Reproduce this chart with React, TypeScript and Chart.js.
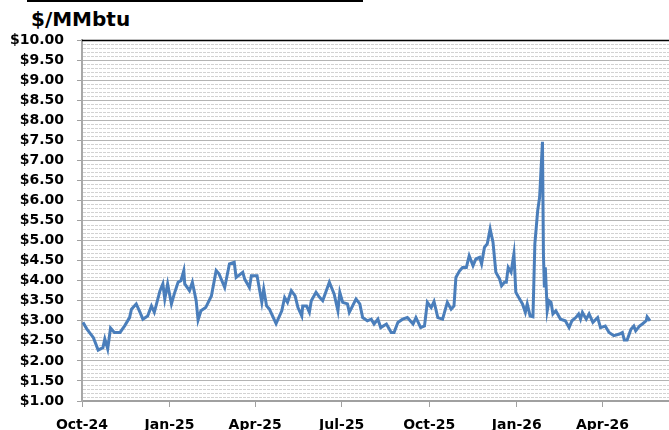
import React, { useEffect, useRef } from "react";
import { Chart, registerables } from "chart.js";

Chart.register(...registerables);

// Day offsets from 1 Oct 2024 and the price on that day ($/MMbtu)
const days = [
  1, 5, 12, 17, 22, 24, 27, 30, 34, 40, 45, 50, 52, 57, 61, 64, 69, 73, 76, 82,
  85, 87, 90, 94, 97, 101, 104, 107, 108, 113, 116, 120, 122, 125, 130, 136, 141, 144, 150, 155,
  160, 162, 169, 171, 176, 178, 184, 189, 191, 194, 197, 204, 210, 213, 216, 220, 224, 227, 231, 232,
  236, 239, 241, 246, 250, 253, 260, 265, 269, 271, 274, 279, 281, 288, 292, 295, 300, 304, 307, 311,
  314, 320, 325, 328, 332, 337, 342, 348, 351, 356, 360, 363, 367, 370, 374, 379, 384, 388, 391, 393,
  397, 400, 404, 407, 411, 414, 418, 420, 423, 426, 429, 432, 435, 439, 441, 444, 446, 448, 451, 454,
  456, 460, 463, 466, 468, 471, 474, 476, 479, 481, 484, 485, 486, 487, 489, 491, 493, 495, 498, 503,
  508, 512, 515, 519, 522, 524, 526, 530, 533, 537, 542, 545, 550, 554, 559, 565, 568, 570, 573, 577,
  580, 582, 586, 589, 593, 594, 597,
];
const prices = [
  2.96, 2.8, 2.58, 2.27, 2.33, 2.55, 2.3, 2.82, 2.71, 2.71, 2.88, 3.08, 3.29, 3.42, 3.21, 3.04, 3.12, 3.37, 3.21, 3.75,
  3.92, 3.54, 3.92, 3.42, 3.67, 3.96, 4.0, 4.25, 3.92, 3.75, 3.96, 3.5, 3.02, 3.25, 3.33, 3.62, 4.25, 4.17, 3.83, 4.42,
  4.46, 4.08, 4.21, 4.04, 3.83, 4.12, 4.12, 3.46, 3.79, 3.37, 3.29, 2.93, 3.25, 3.58, 3.46, 3.75, 3.62, 3.33, 3.12, 3.37,
  3.37, 3.21, 3.5, 3.71, 3.58, 3.5, 3.96, 3.67, 3.25, 3.71, 3.46, 3.42, 3.21, 3.54, 3.42, 3.08, 3.0, 3.04, 2.92, 3.04,
  2.83, 2.92, 2.71, 2.71, 2.96, 3.04, 3.08, 2.92, 3.08, 2.83, 2.87, 3.46, 3.33, 3.48, 3.08, 3.04, 3.46, 3.29, 3.37, 4.08,
  4.25, 4.33, 4.33, 4.62, 4.37, 4.54, 4.58, 4.42, 4.83, 4.92, 5.29, 4.96, 4.21, 4.04, 3.87, 3.96, 3.96, 4.33, 4.21, 4.67,
  3.71, 3.54, 3.42, 3.21, 3.42, 3.12, 3.1, 4.92, 5.75, 6.08, 7.46, 4.67, 3.83, 4.33, 3.25, 3.5, 3.46, 3.17, 3.25, 3.04,
  3.0, 2.83, 3.0, 3.08, 3.17, 3.04, 3.21, 3.04, 3.17, 2.96, 3.08, 2.83, 2.87, 2.71, 2.63, 2.67, 2.71, 2.52, 2.52, 2.79,
  2.87, 2.75, 2.87, 2.92, 3.0, 3.1, 3.0,
];

const tickDays = [0, 92, 182, 273, 365, 457, 547];
const tickLabels = ["Oct-24", "Jan-25", "Apr-25", "Jul-25", "Oct-25", "Jan-26", "Apr-26"];

const FONT = "'DejaVu Sans', sans-serif";

const minorGrid = {
  id: "minorGrid",
  beforeDatasetsDraw(chart: any) {
    const { ctx, chartArea, scales } = chart;
    const y = scales.y;
    ctx.save();
    ctx.strokeStyle = "#d2d2d2";
    ctx.lineWidth = 1;
    ctx.setLineDash([3, 1]);
    for (let i = 11; i < 100; i++) {
      if (i % 5 === 0) continue;
      const py = Math.round(y.getPixelForValue(i / 10)) + 0.5;
      ctx.beginPath();
      ctx.moveTo(chartArea.left + 1, py);
      ctx.lineTo(chartArea.right, py);
      ctx.stroke();
    }
    ctx.setLineDash([]);
    ctx.strokeStyle = "#000";
    ctx.lineWidth = 1.5;
    const top = Math.round(y.getPixelForValue(10)) + 0.5;
    ctx.beginPath();
    ctx.moveTo(chartArea.left, top);
    ctx.lineTo(chartArea.right, top);
    ctx.stroke();
    ctx.restore();
  },
};

export default function App() {
  const ref = useRef<HTMLCanvasElement | null>(null);
  useEffect(() => {
    if (!ref.current) return;
    const chart = new Chart(ref.current, {
      type: "line",
      data: {
        datasets: [
          {
            data: days.map((d, i) => ({ x: d, y: prices[i] })),
            borderColor: "#4A7EBB",
            borderWidth: 3,
            pointRadius: 0,
            tension: 0,
            fill: false,
          },
        ],
      },
      options: {
        animation: false,
        responsive: false,
        devicePixelRatio: 1,
        layout: { padding: { top: 40, right: 0, left: 0, bottom: 0 } },
        plugins: { legend: { display: false }, tooltip: { enabled: false } },
        scales: {
          x: {
            type: "linear",
            min: 0,
            max: 617,
            afterBuildTicks: (s: any) => {
              s.ticks = tickDays.map((v) => ({ value: v }));
            },
            afterFit: (s: any) => {
              s.height = 29;
            },
            ticks: {
              autoSkip: false,
              maxRotation: 0,
              padding: 10,
              color: "#000",
              font: { family: FONT, size: 14, weight: "bold" },
              callback: (_v: any, i: number) => tickLabels[i],
            },
            grid: { drawOnChartArea: false, drawTicks: true, tickLength: 6, tickColor: "#a0a0a0" },
            border: { display: true, color: "#a0a0a0", width: 2 },
          },
          y: {
            min: 1,
            max: 10,
            afterFit: (s: any) => {
              s.width = 82;
            },
            ticks: {
              stepSize: 0.5,
              padding: 13,
              color: "#000",
              font: { family: FONT, size: 14, weight: "bold" },
              callback: (v: any) => "$" + Number(v).toFixed(2),
            },
            grid: { color: "#b4b4b4", lineWidth: 1, tickLength: 5, tickColor: "#a0a0a0" },
            border: { display: true, color: "#a8a8a8", width: 2 },
          },
        },
      },
      plugins: [minorGrid],
    } as any);
    return () => chart.destroy();
  }, []);

  return (
    <div style={{ position: "fixed", left: 0, top: 0, width: 669, height: 430, background: "#fff", overflow: "hidden" }}>
      <div style={{ position: "absolute", left: 27, top: 0, width: 336, height: 2, background: "#000" }} />
      <div
        style={{
          position: "absolute",
          left: 31,
          top: 9,
          fontFamily: FONT,
          fontWeight: "bold",
          fontSize: 20,
          lineHeight: "20px",
          color: "#000",
          whiteSpace: "nowrap",
        }}
      >
        $/MMbtu
      </div>
      <canvas ref={ref} width={669} height={430} style={{ position: "absolute", left: 0, top: 0, width: 669, height: 430 }} />
    </div>
  );
}
